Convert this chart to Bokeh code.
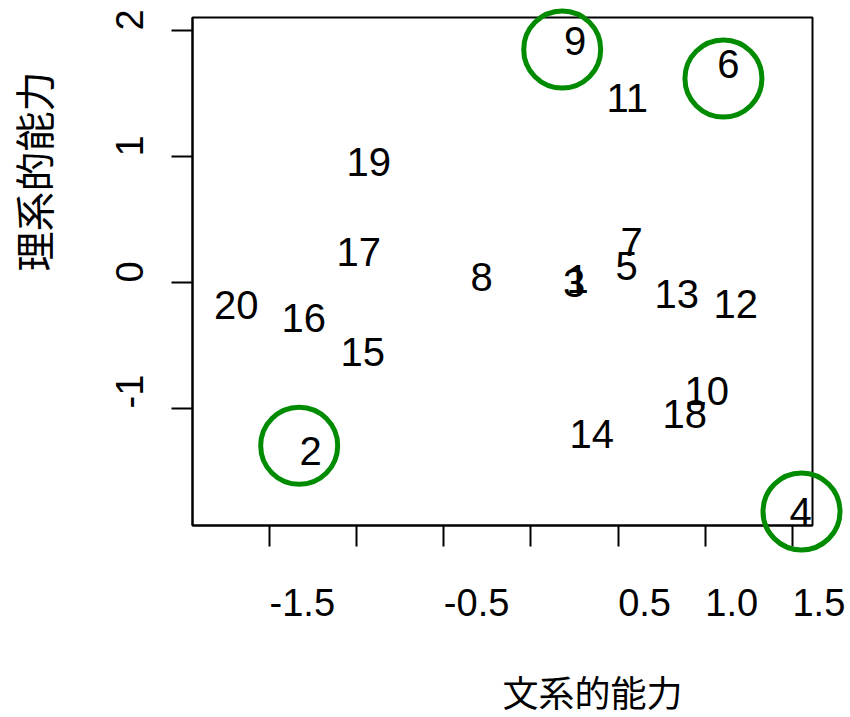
import math
from bokeh.plotting import figure
from bokeh.models import (ColumnDataSource, FixedTicker, Range1d, CustomJSTickFormatter)
from bokeh.core.properties import value
from bokeh.embed import file_html
from bokeh.resources import INLINE

# ---- data ----
ids = [str(i) for i in range(1, 21)]
bunkei = [0.204, -1.328, 0.184, 1.483, 0.485, 1.069, 0.513, -0.347, 0.189, 0.881,
          0.433, 1.047, 0.708, 0.221, -1.093, -1.431, -1.116, 0.754, -1.058, -1.818]
rikei = [0.024, -1.341, -0.008, -1.821, 0.127, 1.730, 0.325, 0.042, 1.913, -0.865,
         1.464, -0.167, -0.095, -1.202, -0.548, -0.282, 0.238, -1.044, 0.960, -0.175]

circled = ["9", "6", "2", "4"]
circle_x = [0.179, 1.104, -1.330, 1.552]
circle_y = [1.849, 1.619, -1.296, -1.817]

x_ticks = [-1.5, -1.0, -0.5, 0.0, 0.5, 1.0, 1.5]
x_label_pos = [-1.5, -0.5, 0.5, 1.0, 1.5]
x_label_txt = ["-1.5", "-0.5", "0.5", "1.0", "1.5"]
y_ticks = [-1, 0, 1, 2]
y_label_txt = ["-1", "0", "1", "2"]

x_title = "文系的能力"
y_title = "理系的能力"

X0, X1 = -1.942, 1.615
Y0, Y1 = -1.929, 2.103
FW, FH = 620, 508

FONT = value("Liberation Sans")
CJK = value("Noto Sans CJK JP")
GREEN = "#008B00"

p = figure(frame_width=FW, frame_height=FH, output_backend="svg",
           toolbar_location=None, x_range=Range1d(X0, X1), y_range=Range1d(Y0, Y1),
           min_border_left=192, min_border_right=38, min_border_top=17,
           min_border_bottom=192)
p.grid.visible = False
p.background_fill_color = "white"
p.border_fill_color = "white"
p.outline_line_color = "black"
p.outline_line_width = 2

empty = CustomJSTickFormatter(code="return ''")
for ax, ticks in ((p.xaxis[0], x_ticks), (p.yaxis[0], y_ticks)):
    ax.ticker = FixedTicker(ticks=ticks, minor_ticks=[])
    ax.formatter = empty
    ax.major_tick_out = 21
    ax.major_tick_in = 0
    ax.minor_tick_out = 0
    ax.minor_tick_in = 0
    ax.major_tick_line_width = 2
    ax.axis_line_width = 2
    ax.major_tick_line_color = "black"
    ax.axis_line_color = "black"

# point labels
src = ColumnDataSource(dict(x=bunkei, y=rikei, t=ids))
p.text(x="x", y="y", text="t", source=src, text_align="left",
       text_baseline="middle", text_font=FONT, text_font_size="40px",
       text_color="black")

# circles (overlay level so they may extend past the frame)
csrc = ColumnDataSource(dict(x=circle_x, y=circle_y, id=circled))
p.scatter(x="x", y="y", source=csrc, marker="circle", size=77,
          fill_color=None, line_color=GREEN, line_width=5, level="overlay")

# tick labels (overlay-level text so they are drawn outside the frame)
xl = ColumnDataSource(dict(x=x_label_pos, y=[Y0] * len(x_label_pos), t=x_label_txt))
p.text(x="x", y="y", text="t", source=xl, y_offset=77, level="overlay",
       text_align="left", text_baseline="middle",
       text_font=FONT, text_font_size="38px", text_color="black")
yl = ColumnDataSource(dict(x=[X0] * len(y_ticks), y=y_ticks, t=y_label_txt))
p.text(x="x", y="y", text="t", source=yl, x_offset=-63, angle=math.pi / 2,
       level="overlay", text_align="left", text_baseline="middle",
       text_font=FONT, text_font_size="38px", text_color="black")

# axis titles
xt = ColumnDataSource(dict(x=[(X0 + X1) / 2], y=[Y0], t=[x_title]))
p.text(x="x", y="y", text="t", source=xt, y_offset=165, level="overlay",
       text_align="left", text_baseline="middle",
       text_font=CJK, text_font_size="36px", text_color="black")
yt = ColumnDataSource(dict(x=[X0], y=[(Y0 + Y1) / 2], t=[y_title]))
p.text(x="x", y="y", text="t", source=yt, x_offset=-160, angle=math.pi / 2,
       level="overlay", text_align="left", text_baseline="middle",
       text_font=CJK, text_font_size="40px", text_color="black")

open("out.html", "w").write(file_html(p, INLINE))
